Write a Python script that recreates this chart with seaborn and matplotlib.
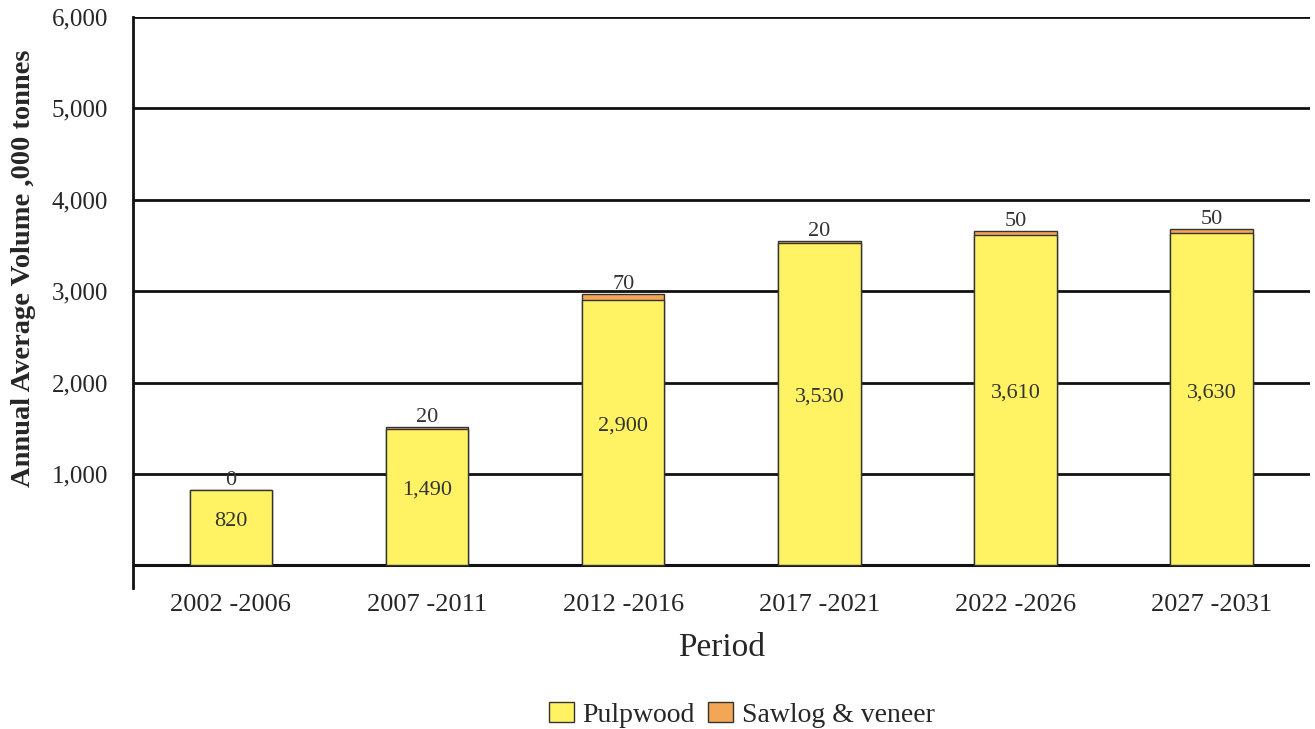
import matplotlib
matplotlib.use("Agg")
import matplotlib.pyplot as plt
import seaborn as sns
import pandas as pd
from matplotlib.patches import Patch

periods = ["2002 -2006", "2007 -2011", "2012 -2016", "2017 -2021", "2022 -2026", "2027 -2031"]
pulpwood = [820, 1490, 2900, 3530, 3610, 3630]
sawlog = [0, 20, 70, 20, 50, 50]
yticks = [1000, 2000, 3000, 4000, 5000, 6000]

sns.set_style("white")
plt.rcParams['font.family'] = ['Liberation Serif', 'DejaVu Serif']

df = pd.DataFrame({"Period": periods, "Pulpwood": pulpwood, "Sawlog": sawlog})
df["Total"] = df["Pulpwood"] + df["Sawlog"]

yellow = "#FFF263"
orange = "#F4A657"
edge = "#333333"

fig = plt.figure(figsize=(13.15, 7.29), dpi=100)
ax = fig.add_axes([0.101, 0.193, 0.895, 0.784])

for y in yticks:
    ax.axhline(y, color="#111111", lw=2, zorder=0)
ax.axhline(0, color="#111111", lw=2.2, zorder=0)

sns.barplot(data=df, x="Period", y="Total", color=orange, edgecolor=edge,
            linewidth=1, width=0.42, saturation=1, ax=ax, zorder=2)
sns.barplot(data=df, x="Period", y="Pulpwood", color=yellow, edgecolor=edge,
            linewidth=1, width=0.42, saturation=1, ax=ax, zorder=3)

for i, (p, s) in enumerate(zip(pulpwood, sawlog)):
    ax.text(i, p / 2 + 75, f"{p:,}", ha="center", va="center", fontsize=16, color="#333333", zorder=5)
    ax.text(i, p + s + 0, f"{s:,}", ha="center", va="bottom", fontsize=16, color="#333333", zorder=5)

ax.set_ylim(-250, 6000)
ax.set_xlim(-0.5, 5.5)
ax.set_yticks(yticks)
ax.set_yticklabels([f"{v:,}" for v in yticks], fontsize=18)
ax.tick_params(axis="y", length=0, pad=18)
ax.tick_params(axis="x", length=0, labelsize=19, pad=4)
ax.set_xlabel("Period", fontsize=24, labelpad=12)
ax.set_ylabel("Annual Average Volume ,000 tonnes", fontsize=20.5, fontweight="bold")
ax.yaxis.set_label_coords(-0.082, 0.56)

for sp in ["top", "right", "bottom"]:
    ax.spines[sp].set_visible(False)
ax.spines["left"].set_color("#111111")
ax.spines["left"].set_linewidth(2)

handles = [Patch(facecolor=yellow, edgecolor=edge, label="Pulpwood"),
           Patch(facecolor=orange, edgecolor=edge, label="Sawlog & veneer")]
fig.legend(handles=handles, loc="center", bbox_to_anchor=(0.564, 0.019), ncol=2,
           frameon=False, fontsize=20, handlelength=0.9, handleheight=0.7,
           handletextpad=0.3, columnspacing=0.5)

fig.savefig("out.png", dpi=100)
